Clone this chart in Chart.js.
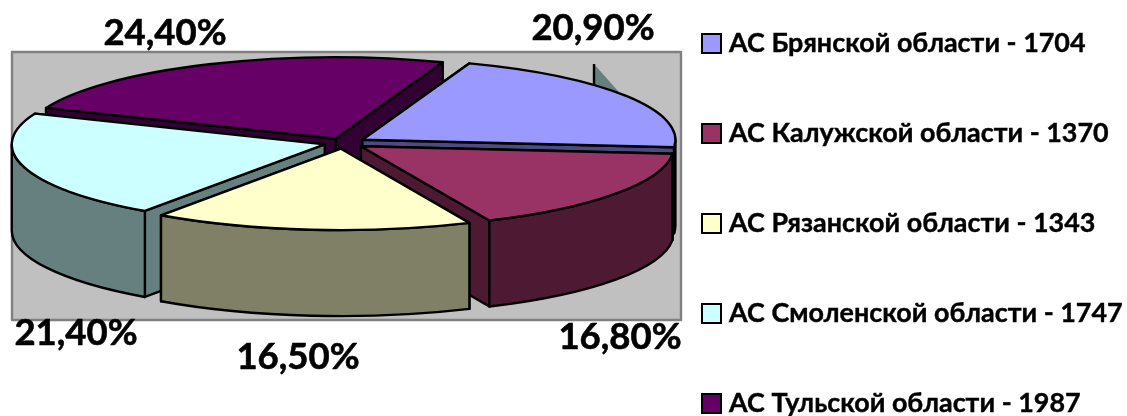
<!DOCTYPE html>
<html>
<head>
<meta charset="utf-8">
<script src="https://cdn.jsdelivr.net/npm/chart.js@4/dist/chart.umd.min.js"></script>
<style>
    html, body { margin: 0; background: #fff; overflow: hidden; }
    #wrap { position: relative; width: 1127px; height: 416px; }
    #myChart { position: absolute; left: 0; top: 0; }
    #legend { position: absolute; left: 701px; top: 19px; font: bold 26.9px Lato, sans-serif; color: #000; -webkit-text-stroke: 0.4px #000; }
    #legend div { height: 90px; line-height: 45px; white-space: nowrap; }
    #legend span { display: inline-block; width: 17px; height: 17px; border: 2px solid #000; margin-right: 7px; vertical-align: -2px; }
</style>
</head>
<body>
<div id="wrap">
    <canvas id="myChart" width="1127" height="416"></canvas>
    <div id="legend"></div>
</div>
<script>
var categories = ["АС Брянской области", "АС Калужской области", "АС Рязанской области", "АС Смоленской области", "АС Тульской области"];
var counts = [1704, 1370, 1343, 1747, 1987];
var percentLabels = ["20,90%", "16,80%", "16,50%", "21,40%", "24,40%"];
var topColors = ["#9999FF", "#993366", "#FFFFCC", "#CCFFFF", "#660066"];
var wallColors = ["#4C4C80", "#4D1933", "#808066", "#668080", "#330033"];

// where the percent labels sit, same order as the slices
var labelCenters = [[593, 28], [620, 337], [298, 357], [76, 333], [165, 33]];
// how far each slice is pulled out of the pie
var explode = [23, 22, 22, 19, 18];

var plotBox = {left: 12, top: 52, right: 681, bottom: 320};
var pieCenterX = 343;
var squash = 0.26;
var depth = 86;

var pie3d = {
    id: "pie3d",
    beforeDatasetsDraw: function(chart) {
        var ctx = chart.ctx;
        var arcs = chart.getDatasetMeta(0).data;
        var cy = (plotBox.top + plotBox.bottom) / 2 - depth / 2;

        ctx.save();
        ctx.lineJoin = "round";
        ctx.lineWidth = 2.4;

        ctx.fillStyle = "#C0C0C0";
        ctx.fillRect(plotBox.left, plotBox.top, plotBox.right - plotBox.left, plotBox.bottom - plotBox.top);
        ctx.strokeStyle = "#808080";
        ctx.strokeRect(plotBox.left, plotBox.top, plotBox.right - plotBox.left, plotBox.bottom - plotBox.top);
        ctx.strokeStyle = "#000";

        // the stray bit of wall that sticks out behind the blue slice
        ctx.fillStyle = wallColors[3];
        ctx.beginPath();
        ctx.moveTo(594, 64);
        ctx.lineTo(594, 100);
        ctx.lineTo(626, 100);
        ctx.closePath();
        ctx.fill();
        ctx.beginPath();
        ctx.moveTo(594, 64);
        ctx.lineTo(594, 100);
        ctx.stroke();

        var order = [];
        for(var i = 0; i < arcs.length; i++) {
            order.push(i);
        }
        order.sort(function(a, b) {
            return Math.sin((arcs[a].startAngle + arcs[a].endAngle) / 2) - Math.sin((arcs[b].startAngle + arcs[b].endAngle) / 2);
        });

        order.forEach(function(i) {
            drawSlice(ctx, arcs[i], i, pieCenterX, cy);
        });

        ctx.fillStyle = "#000";
        ctx.strokeStyle = "#000";
        ctx.lineWidth = 0.6;
        ctx.font = "bold 36.5px Lato, sans-serif";
        ctx.textAlign = "center";
        ctx.textBaseline = "middle";
        for(var j = 0; j < percentLabels.length; j++) {
            ctx.fillText(percentLabels[j], labelCenters[j][0], labelCenters[j][1]);
            ctx.strokeText(percentLabels[j], labelCenters[j][0], labelCenters[j][1]);
        }
        ctx.restore();
        return false;
    }
};

function drawSlice(ctx, arc, i, cx, cy) {
    var r = arc.outerRadius;
    var start = arc.startAngle;
    var end = arc.endAngle;
    var mid = (start + end) / 2;
    var ax = cx + Math.cos(mid) * explode[i];
    var ay = cy + Math.sin(mid) * explode[i] * squash;

    function px(a) { return ax + Math.cos(a) * r; }
    function py(a) { return ay + Math.sin(a) * r * squash; }

    function ellipseTo(a, b, dy, ccw) {
        ctx.ellipse(ax, ay + dy, r, r * squash, 0, a, b, ccw);
    }

    function paint(color) {
        ctx.fillStyle = color;
        ctx.fill();
        ctx.stroke();
    }

    // radial walls, the one further back first
    var walls = Math.sin(start) < Math.sin(end) ? [start, end] : [end, start];
    walls.forEach(function(a) {
        ctx.beginPath();
        ctx.moveTo(ax, ay);
        ctx.lineTo(px(a), py(a));
        ctx.lineTo(px(a), py(a) + depth);
        ctx.lineTo(ax, ay + depth);
        ctx.closePath();
        paint(wallColors[i]);
    });

    // outer wall, only the part facing us
    var a0 = Math.max(start, 0);
    var a1 = Math.min(end, Math.PI);
    if(a1 > a0) {
        ctx.beginPath();
        ellipseTo(a0, a1, 0, false);
        ellipseTo(a1, a0, depth, true);
        ctx.closePath();
        paint(wallColors[i]);
    }

    // top face
    ctx.beginPath();
    ctx.moveTo(ax, ay);
    ellipseTo(start, end, 0, false);
    ctx.closePath();
    paint(topColors[i]);
}

function buildLegend() {
    var node = document.getElementById("legend");
    for(var i = 0; i < categories.length; i++) {
        var row = document.createElement("div");
        var box = document.createElement("span");
        box.style.background = topColors[i];
        row.appendChild(box);
        row.appendChild(document.createTextNode(categories[i] + " - " + counts[i]));
        node.appendChild(row);
    }
}

window.onload = function() {
    buildLegend();
    new Chart(document.getElementById("myChart"), {
        type: "pie",
        data: {
            labels: categories,
            datasets: [{
                data: counts,
                backgroundColor: topColors,
                borderWidth: 0,
                radius: 313
            }]
        },
        options: {
            responsive: false,
            animation: false,
            rotation: 20,
            plugins: {
                legend: {display: false},
                tooltip: {enabled: false}
            }
        },
        plugins: [pie3d]
    });
};
</script>
</body>
</html>
